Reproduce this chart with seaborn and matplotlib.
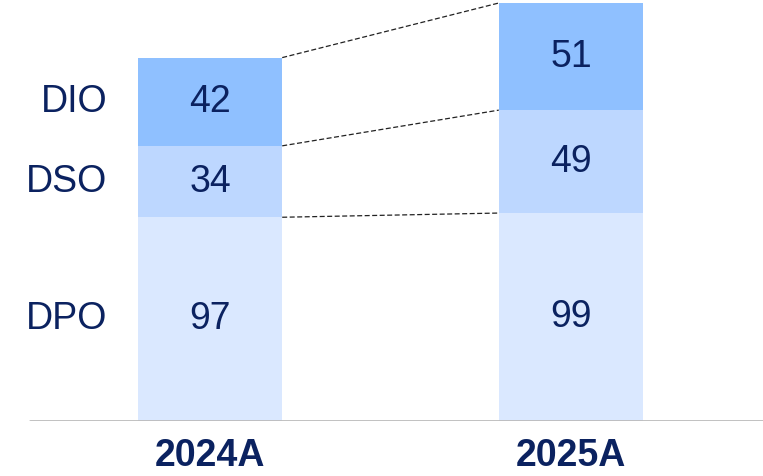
import matplotlib
matplotlib.use("Agg")
import matplotlib.pyplot as plt
import seaborn as sns
import numpy as np

# data
years = ["2024A", "2025A"]
metrics = ["DPO", "DSO", "DIO"]
dpo = [97, 99]
dso = [34, 49]
dio = [42, 51]

colors = {"DPO": "#DAE8FF", "DSO": "#BDD7FF", "DIO": "#8FC0FF"}
navy = "#0B2260"

sns.set_theme(style="white")
plt.rcParams["font.family"] = ["Liberation Sans", "DejaVu Sans"]

fig = plt.figure(figsize=(7.63, 4.76), dpi=100)
ax = fig.add_axes([0, 55 / 476, 1, 421 / 476])

series = {"DPO": dpo, "DSO": dso, "DIO": dio}
bar_w = 0.4
bottom = np.zeros(len(years))
bounds = [bottom.copy()]
for name in metrics:
    vals = np.array(series[name], dtype=float)
    ax.bar(range(len(years)), vals, bottom=bottom, width=bar_w,
           color=colors[name], edgecolor="none")
    for i, v in enumerate(vals):
        ax.text(i, bottom[i] + v / 2, f"{v:.0f}", ha="center", va="center",
                fontsize=27, color=navy)
    # row label next to first bar
    ax.text(-0.285, bottom[0] + vals[0] / 2, name, ha="right", va="center",
            fontsize=27, color=navy)
    bottom = bottom + vals
    bounds.append(bottom.copy())

# dashed connectors between the bars
for b in bounds[1:]:
    ax.plot([bar_w / 2, 1 - bar_w / 2], [b[0], b[1]], ls=(0, (4, 2)),
            color="#222222", lw=0.9)

total_max = bottom.max()
ax.set_xlim(-210 / 361, 1 + 192 / 361)
ax.set_ylim(0, total_max * 421 / 418)
ax.axhline(0, xmin=30 / 763, xmax=1, color="#BBBBBB", lw=2)

ax.set_xticks(range(len(years)))
ax.set_xticklabels(years, fontsize=27, fontweight="bold", color=navy)
ax.tick_params(axis="x", length=0, pad=12)
ax.set_yticks([])
sns.despine(ax=ax, left=True, bottom=True)

fig.savefig("out.png", dpi=100)
